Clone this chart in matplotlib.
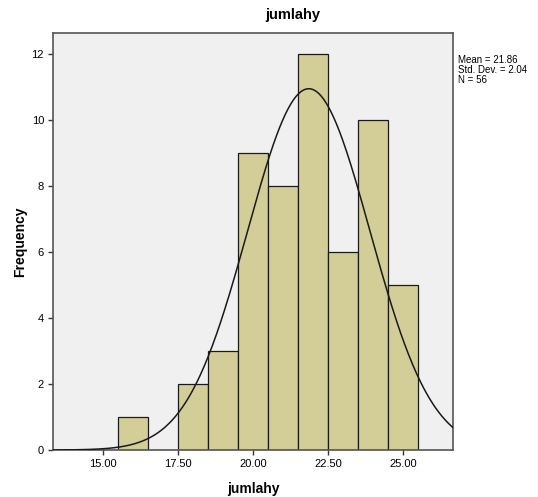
import numpy as np
import matplotlib
matplotlib.use('Agg')
import matplotlib.pyplot as plt

# histogram bins (width 1) and counts
bin_left = [15.5, 17.5, 18.5, 19.5, 20.5, 21.5, 22.5, 23.5, 24.5]
counts = [1, 2, 3, 9, 8, 12, 6, 10, 5]
MEAN = 21.86; SD = 2.04; N = 56
xticks = [15.0, 17.5, 20.0, 22.5, 25.0]
yticks = [0, 2, 4, 6, 8, 10, 12]

plt.rcParams['font.family'] = ['Liberation Sans', 'DejaVu Sans']

fig = plt.figure(figsize=(5.38, 4.97), dpi=100)
ax = fig.add_axes([53/538, 47/497, 400/538, 417/497])
ax.set_facecolor('#f0f0f0')

ax.bar(bin_left, counts, width=1.0, align='edge', color='#d3ce97',
       edgecolor='#1a1a1a', linewidth=0.9, zorder=2)

xmin, xmax = 13.33, 26.67
xs = np.linspace(xmin, xmax, 400)
ys = N * 1.0 / (SD * np.sqrt(2*np.pi)) * np.exp(-0.5*((xs-MEAN)/SD)**2)
ax.plot(xs, ys, color='#1a1a1a', linewidth=1.1, zorder=3)

ax.set_xlim(xmin, xmax)
ax.set_ylim(0, 12.64)
ax.set_xticks(xticks)
ax.set_xticklabels([f'{v:.2f}' for v in xticks])
ax.set_yticks(yticks)
ax.tick_params(direction='out', length=3.5, width=1, color='#333333',
               labelsize=8, pad=3)
for s in ax.spines.values():
    s.set_color('#555555'); s.set_linewidth(1.2)

ax.set_xlabel('jumlahy', fontsize=10, fontweight='bold', labelpad=9)
ax.set_ylabel('Frequency', fontsize=10, fontweight='bold', labelpad=3)
fig.text(293/538, 1-15/497, 'jumlahy', ha='center', va='center',
         fontsize=10.5, fontweight='bold')
fig.text(458/538, 1-70/497, f'Mean = {MEAN:.2f}\nStd. Dev. = {SD:.2f}\nN = {N}',
         ha='left', va='center', fontsize=7, linespacing=0.95)

fig.savefig('out.png', dpi=100)
